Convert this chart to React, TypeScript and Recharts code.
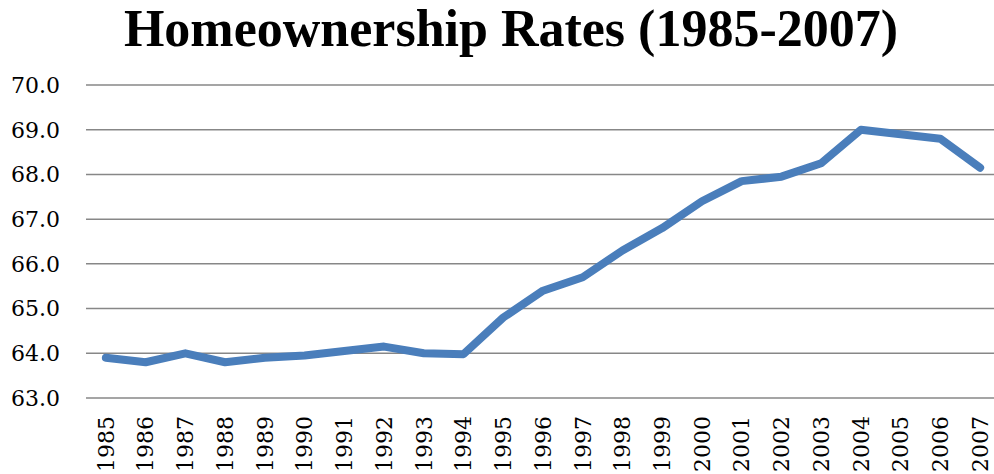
import React from "react";
import { LineChart, Line, XAxis, YAxis, CartesianGrid } from "recharts";

const years = [
  "1985", "1986", "1987", "1988", "1989", "1990", "1991", "1992", "1993", "1994",
  "1995", "1996", "1997", "1998", "1999", "2000", "2001", "2002", "2003", "2004",
  "2005", "2006", "2007",
];
const rates = [
  63.9, 63.8, 64.0, 63.8, 63.9, 63.95, 64.05, 64.15, 64.0, 63.98,
  64.8, 65.4, 65.7, 66.3, 66.8, 67.4, 67.85, 67.95, 68.25, 69.0,
  68.9, 68.8, 68.15,
];
const yTicks = [63, 64, 65, 66, 67, 68, 69, 70];

const data = years.map((y, i) => ({ pos: i + 0.5, year: y, rate: rates[i] }));
const boundaryTicks = years.map((_, i) => i).concat([years.length]);
const centerTicks = years.map((_, i) => i + 0.5);

const FONT = "'DejaVu Serif', serif";

const YearTick = (props: any) => {
  const { x, y, payload } = props;
  const idx = Math.round(payload.value - 0.5);
  return (
    <text
      x={x}
      y={y}
      transform={`rotate(-90 ${x} ${y})`}
      textAnchor="end"
      dy="0.355em"
      fontFamily={FONT}
      fontSize={22}
      fill="#000"
    >
      {years[idx]}
    </text>
  );
};

export default function App() {
  return (
    <div style={{ position: "absolute", left: 0, top: 0, width: 994, height: 474, overflow: "hidden", background: "#fff" }}>
      <svg width={994} height={80} style={{ position: "absolute", left: 0, top: 0 }}>
        <text
          x={511}
          y={46}
          textAnchor="middle"
          fontFamily="'Liberation Serif', serif"
          fontWeight="bold"
          fontSize={52}
          fill="#000"
        >
          Homeownership Rates (1985-2007)
        </text>
      </svg>
      <div style={{ position: "absolute", left: 0, top: 0 }}>
        <LineChart width={1000} height={474} data={data} margin={{ top: 85, right: 0, bottom: 0, left: 0 }}>
          <CartesianGrid horizontal={true} vertical={false} stroke="#878787" strokeWidth={1.5} xAxisId="lines" yAxisId="y" />
          <YAxis
            yAxisId="y"
            domain={[63, 70]}
            ticks={yTicks}
            interval={0}
            width={86}
            axisLine={false}
            tickLine={false}
            tickSize={6}
            tickMargin={20}
            tickFormatter={(v: number) => v.toFixed(1)}
            tick={{ fontFamily: FONT, fontSize: 22, fill: "#000" }}
          />
          <XAxis
            xAxisId="lines"
            type="number"
            dataKey="pos"
            domain={[0, years.length]}
            ticks={boundaryTicks}
            interval={0}
            height={0}
            tick={false}
            tickSize={8}
            axisLine={{ stroke: "#878787", strokeWidth: 1.5 }}
            tickLine={{ stroke: "#878787", strokeWidth: 1.5 }}
          />
          <XAxis
            xAxisId="labels"
            type="number"
            dataKey="pos"
            domain={[0, years.length]}
            ticks={centerTicks}
            interval={0}
            height={76}
            axisLine={false}
            tickLine={false}
            tickSize={6}
            tickMargin={12}
            tick={<YearTick />}
          />
          <Line
            xAxisId="lines"
            yAxisId="y"
            type="linear"
            dataKey="rate"
            stroke="#4A7EBB"
            strokeWidth={8}
            strokeLinecap="round"
            strokeLinejoin="round"
            dot={false}
            activeDot={false}
            isAnimationActive={false}
          />
        </LineChart>
      </div>
    </div>
  );
}
